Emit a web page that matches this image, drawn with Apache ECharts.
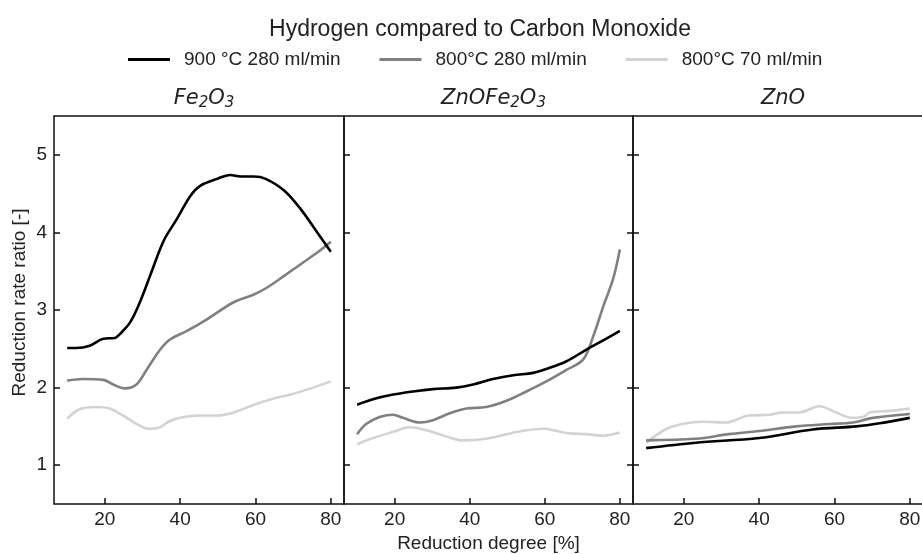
<!DOCTYPE html>
<html>
<head>
<meta charset="utf-8">
<script src="https://cdn.jsdelivr.net/npm/echarts@6/dist/echarts.min.js"></script>
<style>html,body{margin:0;padding:0;background:#fff;}#c{width:922px;height:554px;}</style>
</head>
<body>
<div id="c"></div>
<script>
// ---- data ----
const chartTitle = 'Hydrogen compared to Carbon Monoxide';
const legendNames = ['900 °C 280 ml/min', '800°C 280 ml/min', '800°C 70 ml/min'];
const panelNames = ['Fe2O3', 'ZnOFe2O3', 'ZnO'];
const xTicks = [20, 40, 60, 80];
const yTicks = [1, 2, 3, 4, 5];
const xName = 'Reduction degree [%]';
const yName = 'Reduction rate ratio [-]';

// Fe2O3
const fe_900_280 = [[10,2.51],[12.4,2.51],[16,2.54],[19.6,2.63],[22.7,2.64],[24,2.69],[26.7,2.84],[29.3,3.10],[32,3.44],[35.6,3.89],[39.1,4.17],[42.7,4.47],[45.3,4.60],[49.8,4.69],[53.3,4.74],[56,4.72],[59.6,4.72],[62.7,4.69],[67.6,4.54],[72,4.30],[76.4,4.00],[80,3.75]];
const fe_800_280 = [[10,2.09],[14.2,2.11],[19.6,2.10],[22.2,2.04],[25.3,1.99],[28.4,2.04],[31.1,2.23],[34.7,2.49],[37.3,2.62],[41.8,2.73],[47.1,2.88],[54.2,3.10],[59.6,3.20],[63.1,3.29],[67.6,3.44],[72,3.59],[76.4,3.74],[80,3.88]];
const fe_800_70 = [[10,1.60],[13.3,1.72],[17.8,1.75],[21.3,1.73],[25.8,1.61],[29.3,1.51],[31.6,1.47],[34.2,1.48],[37.3,1.57],[40.9,1.62],[45.3,1.64],[49.8,1.64],[54.2,1.68],[59.6,1.78],[64.9,1.86],[69.3,1.91],[74.7,1.99],[80,2.08]];
// ZnOFe2O3
const zf_900_280 = [[10,1.78],[14.2,1.85],[19.6,1.91],[24.9,1.95],[30.2,1.98],[36.4,2.00],[40.9,2.04],[46.2,2.11],[51.6,2.16],[56.9,2.19],[60.4,2.24],[65.8,2.34],[71.1,2.49],[76.4,2.63],[80,2.73]];
const zf_800_280 = [[10,1.40],[12.4,1.53],[16,1.62],[19.6,1.65],[22.2,1.61],[26.7,1.55],[30.2,1.58],[34.7,1.67],[39.1,1.73],[44.4,1.75],[49.8,1.83],[55.1,1.95],[60.4,2.08],[65.8,2.23],[70.2,2.36],[72.9,2.66],[75.6,3.05],[78.2,3.40],[80,3.78]];
const zf_800_70 = [[10,1.27],[14.2,1.35],[19.6,1.43],[24,1.49],[28.4,1.45],[33.8,1.37],[38.2,1.32],[44.4,1.34],[49.8,1.40],[55.1,1.45],[59.6,1.47],[63.1,1.44],[66.7,1.41],[71.1,1.40],[75.6,1.38],[80,1.42]];
// ZnO
const zn_900_280 = [[10,1.22],[23.1,1.29],[40,1.35],[54.2,1.46],[65.8,1.50],[72,1.54],[80,1.61]];
const zn_800_280 = [[10,1.32],[23.1,1.34],[32,1.40],[40,1.44],[49.8,1.50],[58.7,1.53],[64.9,1.55],[70.2,1.61],[80,1.66]];
const zn_800_70 = [[10,1.29],[15.1,1.46],[19.6,1.53],[24.9,1.56],[31.1,1.55],[37.3,1.64],[42.7,1.65],[46.2,1.68],[50.7,1.68],[56,1.76],[60.4,1.68],[64.9,1.61],[67.6,1.62],[69.3,1.68],[74.7,1.70],[80,1.73]];

const panelData = [
  [fe_900_280, fe_800_280, fe_800_70],
  [zf_900_280, zf_800_280, zf_800_70],
  [zn_900_280, zn_800_280, zn_800_70]
];

// ---- styling / layout ----
const colors = ['#000000', '#808080', '#d3d3d3'];
const FONT = '"Liberation Sans", Arial, sans-serif';
const grids = [
  {left: 54, top: 116, width: 290, height: 388},
  {left: 344, top: 116, width: 289, height: 388},
  {left: 633, top: 116, width: 290, height: 388}
];

function richName(s) {
  return s.replace(/([A-Za-z]+)|(\d+)/g, (m, a, d) => a ? '{i|' + a + '}' : '{s|' + d + '}');
}

const xAxes = [], yAxes = [], series = [], titles = [];
titles.push({text: chartTitle, left: 475, top: 13, textAlign: 'center',
  textStyle: {fontFamily: FONT, fontSize: 23, fontWeight: 'normal', color: '#222'}});

grids.forEach((g, i) => {
  g.show = true;
  g.borderColor = '#111';
  g.borderWidth = 1.5;
  g.containLabel = false;
  g.outerBoundsMode = 'none';
  xAxes.push({
    type: 'value', gridIndex: i, min: 6.5, max: 83.5,
    axisLine: {show: false},
    splitLine: {show: false},
    axisTick: {show: true, inside: true, length: 6, customValues: xTicks, lineStyle: {color: '#111', width: 1.5}},
    axisLabel: {show: true, customValues: xTicks, margin: 6, fontFamily: FONT, fontSize: 19, color: '#222'},
    name: i === 1 ? xName : '',
    nameLocation: 'middle', nameGap: 29,
    nameTextStyle: {fontFamily: FONT, fontSize: 19, color: '#222'}
  });
  yAxes.push({
    type: 'value', gridIndex: i, min: 0.5, max: 5.5,
    axisLine: {show: false},
    splitLine: {show: false},
    axisTick: {show: true, inside: true, length: 6, customValues: yTicks, lineStyle: {color: '#111', width: 1.5}},
    axisLabel: {show: i === 0, customValues: yTicks, margin: 7, fontFamily: FONT, fontSize: 19, color: '#222'},
    name: i === 0 ? yName : '',
    nameLocation: 'middle', nameGap: 25,
    nameTextStyle: {fontFamily: FONT, fontSize: 19, color: '#222', padding: [0, 0, 0, 15]}
  });
  titles.push({
    text: richName(panelNames[i]),
    left: g.left + g.width / 2, top: 81, textAlign: 'center',
    textStyle: {
      rich: {
        i: {fontFamily: '"DejaVu Sans", sans-serif', fontStyle: 'italic', fontWeight: 'normal', fontSize: 21, color: '#222', lineHeight: 25},
        s: {fontFamily: '"DejaVu Sans", sans-serif', fontStyle: 'italic', fontWeight: 'normal', fontSize: 15, color: '#222', lineHeight: 17, verticalAlign: 'bottom'}
      }
    }
  });
  panelData[i].forEach((d, k) => {
    series.push({
      type: 'line', name: legendNames[k], xAxisIndex: i, yAxisIndex: i,
      data: d, smooth: 0.35, showSymbol: false, symbol: 'none',
      lineStyle: {color: colors[k], width: 2.6},
      itemStyle: {color: colors[k]},
      z: 10 - k
    });
  });
});

// extra right-side ticks on middle panel
yAxes.push({
  type: 'value', gridIndex: 1, position: 'right', min: 0.5, max: 5.5,
  axisLine: {show: false}, splitLine: {show: false},
  axisTick: {show: true, inside: true, length: 6, customValues: yTicks, lineStyle: {color: '#111', width: 1.5}},
  axisLabel: {show: false}
});

const option = {
  animation: false,
  backgroundColor: '#fff',
  title: titles,
  legend: {
    data: legendNames, top: 45, left: 123,
    icon: 'rect', itemWidth: 42, itemHeight: 3, itemGap: 39,
    textStyle: {fontFamily: FONT, fontSize: 19, color: '#222', padding: [0, 0, 0, 9]}
  },
  grid: grids, xAxis: xAxes, yAxis: yAxes, series: series
};
const chart = echarts.init(document.getElementById('c'), null, {renderer: 'canvas'});
chart.setOption(option);
</script>
</body>
</html>
